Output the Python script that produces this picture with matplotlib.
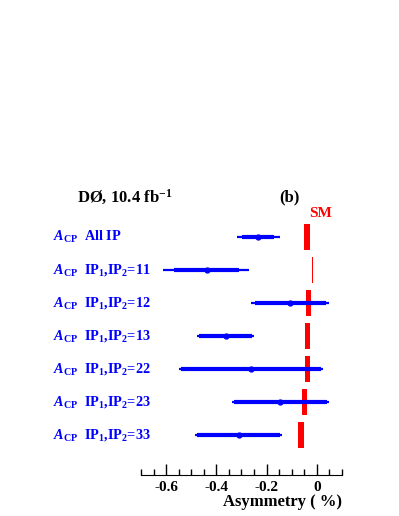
import numpy as np
import matplotlib
matplotlib.use("Agg")
import matplotlib.pyplot as plt
from matplotlib.ticker import MultipleLocator

plt.rcParams['font.family'] = ['Liberation Serif', 'DejaVu Serif']
plt.rcParams['font.weight'] = 'bold'
plt.rcParams['axes.labelweight'] = 'bold'
plt.rcParams['mathtext.fontset'] = 'custom'
plt.rcParams['mathtext.rm'] = 'Liberation Serif:bold'
plt.rcParams['mathtext.it'] = 'Liberation Serif:italic:bold'
plt.rcParams['mathtext.bf'] = 'Liberation Serif:bold'
plt.rcParams['axes.unicode_minus'] = False

# measurements (percent)
labels = ["All IP", "IP$_1$,IP$_2$=11", "IP$_1$,IP$_2$=12", "IP$_1$,IP$_2$=13",
          "IP$_1$,IP$_2$=22", "IP$_1$,IP$_2$=23", "IP$_1$,IP$_2$=33"]
acp = np.array([-0.233, -0.439, -0.106, -0.362, -0.262, -0.146, -0.311])
stat_lo = np.array([0.067, 0.131, 0.141, 0.106, 0.278, 0.184, 0.165])
stat_hi = np.array([0.063, 0.128, 0.142, 0.102, 0.280, 0.186, 0.166])
tot_lo = np.array([0.085, 0.172, 0.156, 0.115, 0.285, 0.193, 0.173])
tot_hi = np.array([0.085, 0.170, 0.155, 0.110, 0.285, 0.195, 0.172])

# SM expectation and its uncertainty
sm = np.array([-0.040, -0.017, -0.033, -0.039, -0.039, -0.050, -0.062])
sm_err = np.array([0.011, 0.003, 0.009, 0.010, 0.010, 0.011, 0.012])

blue = '#0000ff'
red = '#ff0000'

fig = plt.figure(figsize=(3.99, 5.16), dpi=100)
ax = fig.add_axes([141 / 399, 41 / 516, 201 / 399, 295 / 516])

rows = np.arange(len(labels))

ax.barh(rows, 2 * sm_err, left=sm - sm_err, height=0.79, color=red, zorder=1)
ax.errorbar(acp, rows, xerr=[tot_lo, tot_hi], fmt='none', ecolor=blue,
            elinewidth=1.6, capsize=0, zorder=2)
ax.errorbar(acp, rows, xerr=[stat_lo, stat_hi], fmt='o', color=blue,
            ecolor=blue, elinewidth=3.0, markersize=3.5, capsize=0, zorder=3)

for i, lab in enumerate(labels):
    ax.text(-1.05, i, r"$A_{\mathrm{CP}}$  " + lab, color=blue, fontsize=10.3,
            ha='left', va='center', clip_on=False)

ax.text(-0.954, -1.21, r"DØ, 10.4 fb$^{\mathbf{-1}}$", fontsize=12,
        ha='left', va='center', clip_on=False)
ax.text(-0.111, -1.21, "(b)", fontsize=12, ha='center', va='center')
ax.text(0.014, -0.70, "SM", color=red, fontsize=11, ha='center', va='center')

ax.set_xlim(-0.7, 0.1)
ax.set_ylim(7.21, -1.73)
ax.xaxis.set_minor_locator(MultipleLocator(0.05))
ax.set_xticks([-0.6, -0.4, -0.2, 0.0])
ax.set_xticklabels(["-0.6", "-0.4", "-0.2", "0"], fontsize=11, fontweight='bold')
ax.tick_params(axis='x', which='major', direction='in', length=8, width=1, pad=4)
ax.tick_params(axis='x', which='minor', direction='in', length=4, width=1)
ax.set_yticks([])
for side in ['top', 'left', 'right']:
    ax.spines[side].set_visible(False)
ax.spines['bottom'].set_linewidth(0.8)
ax.set_xlabel("Asymmetry ( %)", fontsize=12, fontweight='bold', loc='right',
              labelpad=0)

fig.savefig("out.png", dpi=100)
